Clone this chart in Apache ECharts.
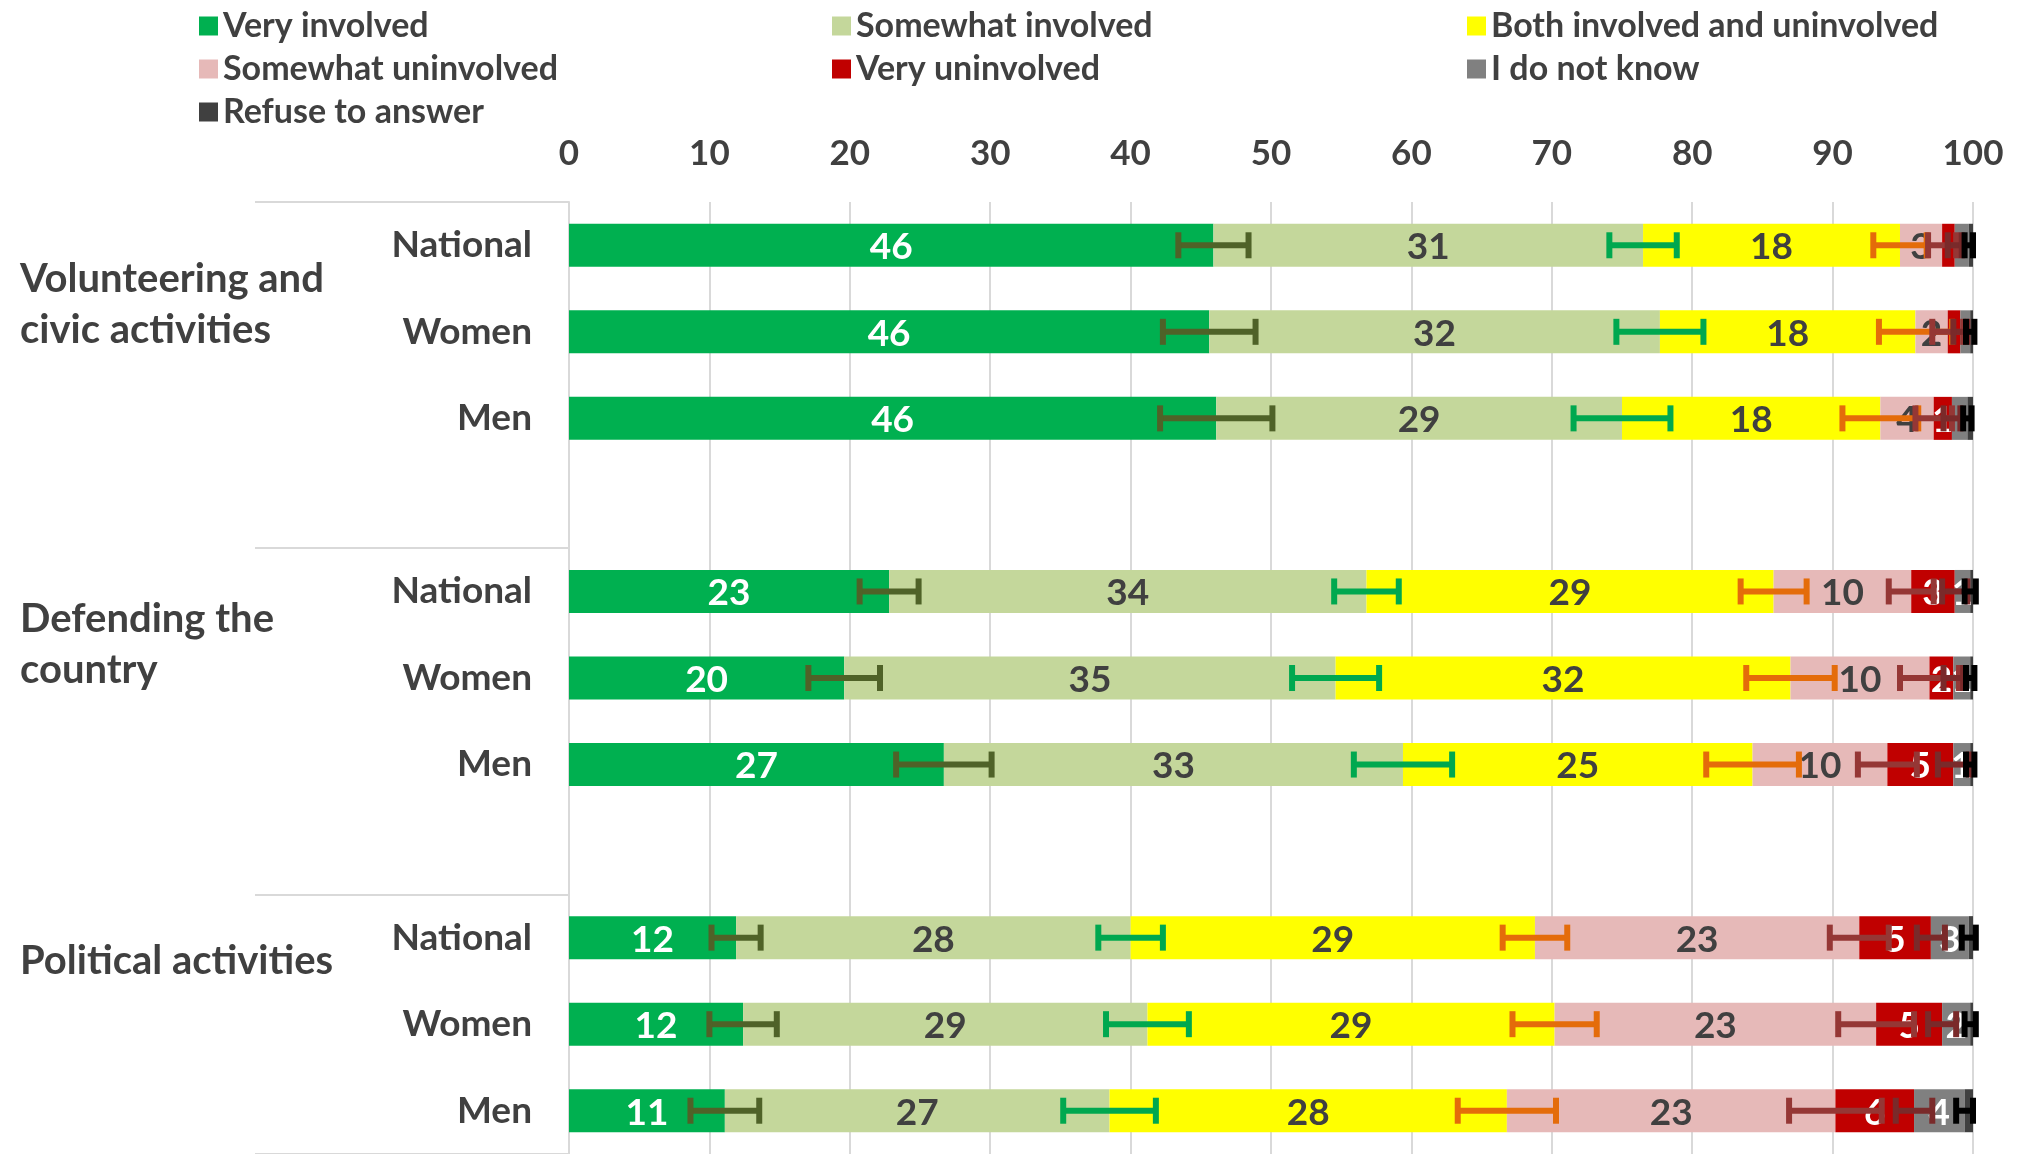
<!DOCTYPE html>
<html>
<head>
<meta charset="utf-8">
<script src="https://cdn.jsdelivr.net/npm/echarts@6/dist/echarts.min.js"></script>
<style>
  html, body { margin: 0; padding: 0; background: #fff; }
  #main { width: 2023px; height: 1154px; }
</style>
</head>
<body>
<div id="main"></div>
<script>
// rows from top to bottom, '' is the spacer row between the groups
var rows = ['National', 'Women', 'Men', '', 'National', 'Women', 'Men', '', 'National', 'Women', 'Men'];
var groups = ['Volunteering and\ncivic activities', 'Defending the\ncountry', 'Political activities'];
var xTicks = [0, 10, 20, 30, 40, 50, 60, 70, 80, 90, 100];

// shares in %
var veryInvolved     = [45.9, 45.6, 46.1, null, 22.8, 19.6, 26.7, null, 11.9, 12.4, 11.1];
var somewhatInvolved = [30.6, 32.1, 28.9, null, 34.0, 35.0, 32.7, null, 28.1, 28.8, 27.4];
var bothInvolved     = [18.3, 18.2, 18.4, null, 29.0, 32.4, 24.9, null, 28.8, 29.0, 28.3];
var somewhatUninv    = [3.0, 2.3, 3.8, null, 9.8, 9.9, 9.6, null, 23.1, 22.9, 23.4];
var veryUninv        = [0.9, 0.9, 1.3, null, 3.1, 1.7, 4.7, null, 5.1, 4.7, 5.6];
var dontKnow         = [1.0, 0.7, 1.1, null, 1.1, 1.2, 1.2, null, 2.7, 2.0, 3.6];
var refuse           = [0.3, 0.2, 0.4, null, 0.2, 0.2, 0.2, null, 0.3, 0.2, 0.6];

// half widths of the error bars, drawn at the right end of each segment
var errVery       = [2.5, 3.3, 4.0, null, 2.1, 2.55, 3.4, null, 1.75, 2.4, 2.45];
var errSomewhat   = [2.4, 3.1, 3.45, null, 2.3, 3.1, 3.5, null, 2.3, 2.95, 3.3];
var errBoth       = [1.9, 2.6, 2.7, null, 2.35, 3.15, 3.3, null, 2.3, 3.0, 3.5];
var errSomeUninv  = [1.0, 1.1, 1.3, null, 1.6, 2.1, 2.1, null, 2.1, 2.7, 3.3];
var errVeryUninv  = [0.5, 0.5, 0.6, null, 0.9, 0.7, 1.1, null, 1.0, 1.0, 1.3];
var errDontKnow   = [0.3, 0.3, 0.3, null, 0.4, 0.3, 0.3, null, 0.5, 0.4, 0.6];

// rows where the original leaves the segment unlabelled
var noLabelVeryUninv = [0, 1];
var noLabelDontKnow = [0, 1, 2];

var FONT = 'Lato';
var TXT = '#404040';

var chart = echarts.init(document.getElementById('main'));

function barSeries(name, values, color, labelColor, hidden) {
  return {
    type: 'bar', name: name, stack: 'all', barWidth: 43,
    itemStyle: { color: color },
    label: {
      show: true, position: 'inside', color: labelColor, offset: [0, 2],
      fontFamily: FONT, fontWeight: 'bold', fontSize: 37,
      formatter: function (p) { return Math.round(p.value); }
    },
    data: values.map(function (v, i) {
      if (v == null) return '-';
      if (hidden === 'all' || (hidden && hidden.indexOf(i) >= 0)) return { value: v, label: { show: false } };
      return v;
    })
  };
}

function cumulative(list) {
  var out = [];
  var acc = rows.map(function () { return 0; });
  list.forEach(function (arr) {
    acc = acc.map(function (a, i) { return arr[i] == null ? null : a + arr[i]; });
    out.push(acc.slice());
  });
  return out;
}

var ends = cumulative([veryInvolved, somewhatInvolved, bothInvolved, somewhatUninv, veryUninv, dontKnow]);

function errorSeries(name, endVals, errs, color) {
  var data = [];
  endVals.forEach(function (e, i) {
    if (e != null && errs[i] != null) data.push([e - errs[i], e + errs[i], i]);
  });
  return {
    type: 'custom', name: name, data: data, z: 10, silent: true,
    encode: { x: [0, 1], y: 2 },
    renderItem: function (params, api) {
      var lo = api.coord([api.value(0), api.value(2)]);
      var hi = api.coord([api.value(1), api.value(2)]);
      var h = 13;
      var st = { stroke: color, lineWidth: 6 };
      return {
        type: 'group',
        children: [
          { type: 'line', shape: { x1: lo[0], y1: lo[1], x2: hi[0], y2: hi[1] }, style: st },
          { type: 'line', shape: { x1: lo[0], y1: lo[1] - h, x2: lo[0], y2: lo[1] + h }, style: st },
          { type: 'line', shape: { x1: hi[0], y1: hi[1] - h, x2: hi[0], y2: hi[1] + h }, style: st }
        ]
      };
    }
  };
}

var legendText = { fontFamily: FONT, fontWeight: 'bold', fontSize: 34, color: TXT };
function legendCol(left, names) {
  return {
    orient: 'vertical', left: left, top: 4, icon: 'rect',
    itemWidth: 19, itemHeight: 19, itemGap: 9,
    textStyle: legendText, data: names, selectedMode: false
  };
}

var groupFont = 'bold 40px Lato';

var option = {
  animation: false,
  backgroundColor: '#fff',
  legend: [
    legendCol(194, ['Very involved', 'Somewhat uninvolved', 'Refuse to answer']),
    legendCol(827, ['Somewhat involved', 'Very uninvolved']),
    legendCol(1462, ['Both involved and uninvolved', 'I do not know'])
  ],
  grid: { left: 569, right: 50, top: 202, bottom: 0 },
  xAxis: {
    type: 'value', position: 'top',
    min: xTicks[0], max: xTicks[xTicks.length - 1], interval: xTicks[1] - xTicks[0],
    axisLine: { show: false }, axisTick: { show: false },
    axisLabel: { margin: 31, fontFamily: FONT, fontWeight: 'bold', fontSize: 35, color: TXT },
    splitLine: { lineStyle: { color: '#D9D9D9', width: 2 } }
  },
  yAxis: {
    type: 'category', inverse: true, data: rows,
    axisLine: { show: true, lineStyle: { color: '#D9D9D9', width: 2 } },
    axisTick: {
      show: true, length: 314,
      interval: function (i) { return i === 0 || i === 4 || i === 8; },
      lineStyle: { color: '#D9D9D9', width: 2 }
    },
    axisLabel: { margin: 37, fontFamily: FONT, fontWeight: 'bold', fontSize: 37, color: TXT }
  },
  graphic: [
    { type: 'text', left: 20, top: 254, style: { text: groups[0], font: groupFont, fill: TXT, lineHeight: 51 } },
    { type: 'text', left: 20, top: 594, style: { text: groups[1], font: groupFont, fill: TXT, lineHeight: 51 } },
    { type: 'text', left: 20, top: 936, style: { text: groups[2], font: groupFont, fill: TXT, lineHeight: 51 } }
  ],
  series: [
    barSeries('Very involved', veryInvolved, '#00B050', '#fff'),
    barSeries('Somewhat involved', somewhatInvolved, '#C4D79B', TXT),
    barSeries('Both involved and uninvolved', bothInvolved, '#FFFF00', TXT),
    barSeries('Somewhat uninvolved', somewhatUninv, '#E6B9B8', TXT),
    barSeries('Very uninvolved', veryUninv, '#C00000', '#fff', noLabelVeryUninv),
    barSeries('I do not know', dontKnow, '#808080', '#fff', noLabelDontKnow),
    barSeries('Refuse to answer', refuse, '#404040', '#fff', 'all'),
    errorSeries('err1', ends[0], errVery, '#4F6228'),
    errorSeries('err2', ends[1], errSomewhat, '#00A84F'),
    errorSeries('err3', ends[2], errBoth, '#E46C0A'),
    errorSeries('err4', ends[3], errSomeUninv, '#953735'),
    errorSeries('err5', ends[4], errVeryUninv, '#7A2A2A'),
    errorSeries('err6', ends[5], errDontKnow, '#000000')
  ]
};

chart.setOption(option);
</script>
</body>
</html>
